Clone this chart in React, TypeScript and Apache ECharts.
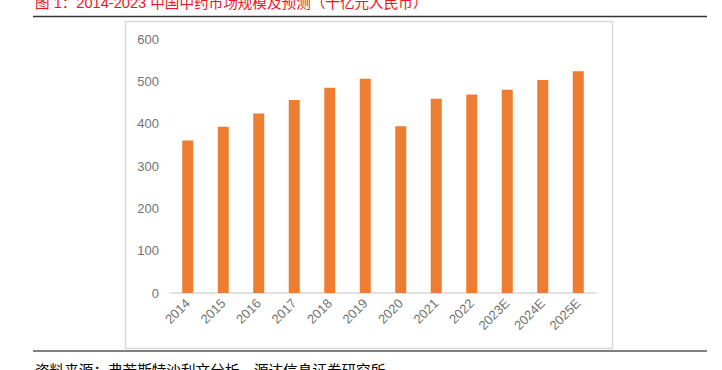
import React, { useEffect, useRef } from "react";
import * as echarts from "echarts";

const categories = ["2014", "2015", "2016", "2017", "2018", "2019", "2020", "2021", "2022", "2023E", "2024E", "2025E"];
const marketSize = [360, 393, 424, 456, 485, 506, 394, 459, 469, 480, 503, 524];
const yTicks = { min: 0, max: 600, interval: 100 };
const titleText = "图 1：2014-2023 中国中药市场规模及预测（十亿元人民币）";
const sourceText = "资料来源：弗若斯特沙利文分析，源达信息证券研究所";

export default function App() {
  const ref = useRef<HTMLDivElement>(null);
  useEffect(() => {
    if (!ref.current) return;
    const chart = echarts.init(ref.current, null, { renderer: "svg" });
    const font = "'Liberation Sans', Arial, sans-serif";
    const cjk = "'Liberation Sans', 'Noto Sans CJK SC', sans-serif";
    chart.setOption({
      animation: false,
      backgroundColor: "#ffffff",
      grid: { left: 170, right: 126, top: 39, bottom: 77, containLabel: false },
      xAxis: {
        type: "category",
        data: categories,
        axisLine: { show: true, lineStyle: { color: "#d9d9d9", width: 1.5 } },
        axisTick: { show: false },
        axisLabel: {
          rotate: 45,
          color: "#737373",
          fontSize: 13,
          fontFamily: font,
          margin: 8,
          interval: 0,
        },
      },
      yAxis: {
        type: "value",
        min: yTicks.min,
        max: yTicks.max,
        interval: yTicks.interval,
        axisLine: { show: false },
        axisTick: { show: false },
        splitLine: { show: false },
        axisLabel: { color: "#737373", fontSize: 13, fontFamily: font, margin: 11 },
      },
      series: [
        {
          type: "bar",
          data: marketSize,
          barWidth: "31%",
          itemStyle: { color: "#ed7d31" },
        },
      ],
      graphic: [
        {
          type: "rect",
          shape: { x: 125.5, y: 21.5, width: 487, height: 327 },
          style: { fill: "none", stroke: "#d9d9d9", lineWidth: 1.5 },
          z: -1,
        },
        {
          type: "line",
          shape: { x1: 33, y1: 16.5, x2: 707, y2: 16.5 },
          style: { stroke: "#333333", lineWidth: 1.5 },
        },
        {
          type: "line",
          shape: { x1: 33, y1: 351, x2: 707, y2: 351 },
          style: { stroke: "#808080", lineWidth: 2 },
        },
        {
          type: "text",
          x: 35,
          y: 3,
          style: {
            text: titleText,
            fill: "#f0141e",
            fontSize: 14.6,
            fontFamily: cjk,
            textVerticalAlign: "middle",
            verticalAlign: "middle",
          },
        },
        {
          type: "text",
          x: 35,
          y: 371,
          style: {
            text: sourceText,
            fill: "#000000",
            fontSize: 14.6,
            fontFamily: cjk,
            textVerticalAlign: "middle",
            verticalAlign: "middle",
          },
        },
      ],
    });
    return () => chart.dispose();
  }, []);
  return (
    <div
      ref={ref}
      style={{ position: "fixed", left: 0, top: 0, width: 722, height: 370 }}
    />
  );
}
